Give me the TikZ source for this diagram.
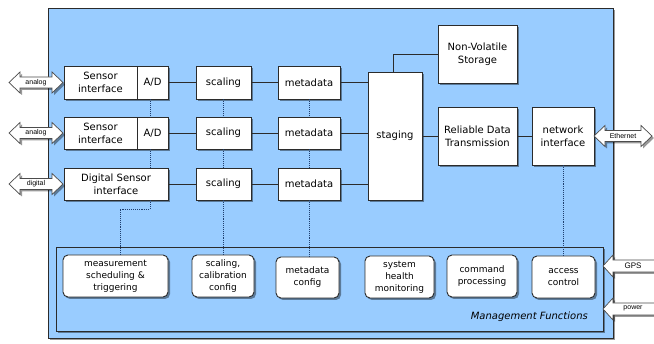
\documentclass[tikz,border=0pt]{standalone}
\usepackage{fontspec}
\setmainfont{DejaVu Sans}
\newfontfamily\ioFont{Liberation Sans}
\usetikzlibrary{shadows}
\definecolor{panel}{HTML}{99CCFF}
\definecolor{edge}{HTML}{2B2B2B}
\definecolor{dotc}{HTML}{1F3F6F}
\begin{document}
\begin{tikzpicture}[x=1pt,y=-1pt,
  shad/.style={drop shadow={shadow xshift=2pt,shadow yshift=-2pt,opacity=0.4,fill=black}},
  blk/.style={draw=edge,line width=0.9pt,fill=white,shad,align=center,inner sep=1pt,
    font=\fontsize{10}{13}\selectfont},
  mgt/.style={blk,rounded corners=5pt,font=\fontsize{9}{12}\selectfont},
  pnl/.style={draw=edge,line width=0.9pt,fill=panel,shad},
  link/.style={draw=edge,line width=0.8pt},
  ctl/.style={draw=dotc,line width=0.9pt,densely dotted},
  io/.style={draw=gray!60!black,fill=white,line width=0.7pt,shad},
  iotext/.style={font=\ioFont\fontsize{7}{8}\selectfont,inner sep=0pt}]
\useasboundingbox (0,0) rectangle (654,344);
\fill[white] (0,0) rectangle (654,344);

% panels
\draw[pnl] (48,8) rectangle (613,338);
\draw[pnl] (56,247) rectangle (603,331);

% data path blocks
\node[blk,minimum width=73pt,minimum height=33pt] (si1) at (100.5,82.5) {Sensor\\interface};
\node[blk,minimum width=31pt,minimum height=33pt] (ad1) at (152.5,82.5) {A/D};
\node[blk,minimum width=73pt,minimum height=32pt] (si2) at (100.5,133) {Sensor\\interface};
\node[blk,minimum width=31pt,minimum height=32pt] (ad2) at (152.5,133) {A/D};
\node[blk,minimum width=104pt,minimum height=32pt] (dsi) at (116,184) {Digital Sensor\\interface};
\node[blk,minimum width=55pt,minimum height=33pt] (sc1) at (223.5,82.5) {scaling};
\node[blk,minimum width=55pt,minimum height=32pt] (sc2) at (223.5,133) {scaling};
\node[blk,minimum width=55pt,minimum height=32pt] (sc3) at (223.5,184) {scaling};
\node[blk,minimum width=62pt,minimum height=33pt] (md1) at (309,82.5) {metadata};
\node[blk,minimum width=62pt,minimum height=32pt] (md2) at (309,133) {metadata};
\node[blk,minimum width=62pt,minimum height=32pt] (md3) at (309,184) {metadata};
\node[blk,minimum width=54pt,minimum height=128pt] (stg) at (395,136) {staging};
\node[blk,minimum width=79pt,minimum height=58pt] (nvs) at (477.5,54) {Non-Volatile\\Storage};
\node[blk,minimum width=79pt,minimum height=58pt] (rdt) at (477.5,136) {Reliable Data\\Transmission};
\node[blk,minimum width=62pt,minimum height=58pt] (nif) at (563,136) {network\\interface};

% links
\draw[link] (ad1.east) -- (sc1.west);
\draw[link] (ad2.east) -- (sc2.west);
\draw[link] (dsi.east) -- (sc3.west);
\draw[link] (sc1.east) -- (md1.west);
\draw[link] (sc2.east) -- (md2.west);
\draw[link] (sc3.east) -- (md3.west);
\draw[link] (md1.east) -- (md1.east -| stg.west);
\draw[link] (md2.east) -- (md2.east -| stg.west);
\draw[link] (md3.east) -- (md3.east -| stg.west);
\draw[link] (stg.east) -- (rdt.west);
\draw[link] (rdt.east) -- (nif.west);
\draw[link] ([xshift=-2pt]stg.north) |- (nvs.west);

% management functions
\node[mgt,minimum width=105pt,minimum height=42pt] (ms) at (115.5,276) {measurement\\scheduling \&\\triggering};
\node[mgt,minimum width=62pt,minimum height=42pt] (scc) at (223,276) {scaling,\\calibration\\config};
\node[mgt,minimum width=63pt,minimum height=41pt] (mdc) at (307.5,277.5) {metadata\\config};
\node[mgt,minimum width=69pt,minimum height=42pt] (shm) at (399.5,277) {system\\health\\monitoring};
\node[mgt,minimum width=70pt,minimum height=42pt] (cmd) at (482,276) {command\\processing};
\node[mgt,minimum width=63pt,minimum height=42pt] (acc) at (563.5,277) {access\\control};
\node[anchor=east,inner sep=0pt,font=\fontsize{10}{12}\selectfont\itshape] (mf) at (588,317) {Management Functions};

% control (dotted) lines
\coordinate (k1) at (150,209);
\coordinate (k2) at (120,209);
\draw[ctl] (ad1.south -| k1) -- (ad2.north -| k1);
\draw[ctl] (ad2.south -| k1) -- (dsi.north -| k1);
\draw[ctl] (dsi.south -| k1) -- (k1) -- (k2) -- (k2 |- ms.north);
\draw[ctl] (sc1.south) -- (sc2.north);
\draw[ctl] (sc2.south) -- (sc3.north);
\draw[ctl] (sc3.south) -- (sc3.south |- scc.north);
\draw[ctl] (md1.south) -- (md2.north);
\draw[ctl] (md2.south) -- (md3.north);
\draw[ctl] (md3.south) -- (md3.south |- mdc.north);
\draw[ctl] (nif.south) -- (nif.south |- acc.north);

% external interfaces
\begin{scope}[shift={(36,82.5)}]
  \draw[io] (-27,0) -- (-16,-10.5) -- (-16,-5.5) -- (16,-5.5) -- (16,-10.5) -- (27,0)
    -- (16,10.5) -- (16,5.5) -- (-16,5.5) -- (-16,10.5) -- cycle;
  \node[iotext] (an1) at (0,0) {analog};
\end{scope}
\begin{scope}[shift={(36,133)}]
  \draw[io] (-27,0) -- (-16,-10.5) -- (-16,-5.5) -- (16,-5.5) -- (16,-10.5) -- (27,0)
    -- (16,10.5) -- (16,5.5) -- (-16,5.5) -- (-16,10.5) -- cycle;
  \node[iotext] (an2) at (0,0) {analog};
\end{scope}
\begin{scope}[shift={(36,184)}]
  \draw[io] (-27,0) -- (-16,-10.5) -- (-16,-5.5) -- (16,-5.5) -- (16,-10.5) -- (27,0)
    -- (16,10.5) -- (16,5.5) -- (-16,5.5) -- (-16,10.5) -- cycle;
  \node[iotext] (dg) at (0,0) {digital};
\end{scope}
\begin{scope}[shift={(623,136)}]
  \draw[io] (-29,0) -- (-18,-10.5) -- (-18,-5.5) -- (18,-5.5) -- (18,-10.5) -- (29,0)
    -- (18,10.5) -- (18,5.5) -- (-18,5.5) -- (-18,10.5) -- cycle;
  \node[iotext] (eth) at (0,0) {Ethernet};
\end{scope}
\draw[io] (603,266) -- (613,255) -- (613,260) -- (662,260) -- (662,272) -- (613,272) -- (613,277) -- cycle;
\node[iotext,font=\ioFont\fontsize{8}{9}\selectfont] (gps) at (633,265.5) {GPS};
\draw[io] (603,309) -- (613,298) -- (613,303) -- (662,303) -- (662,315) -- (613,315) -- (613,320) -- cycle;
\node[iotext] (pwr) at (633,308.5) {power};
\end{tikzpicture}
\end{document}
